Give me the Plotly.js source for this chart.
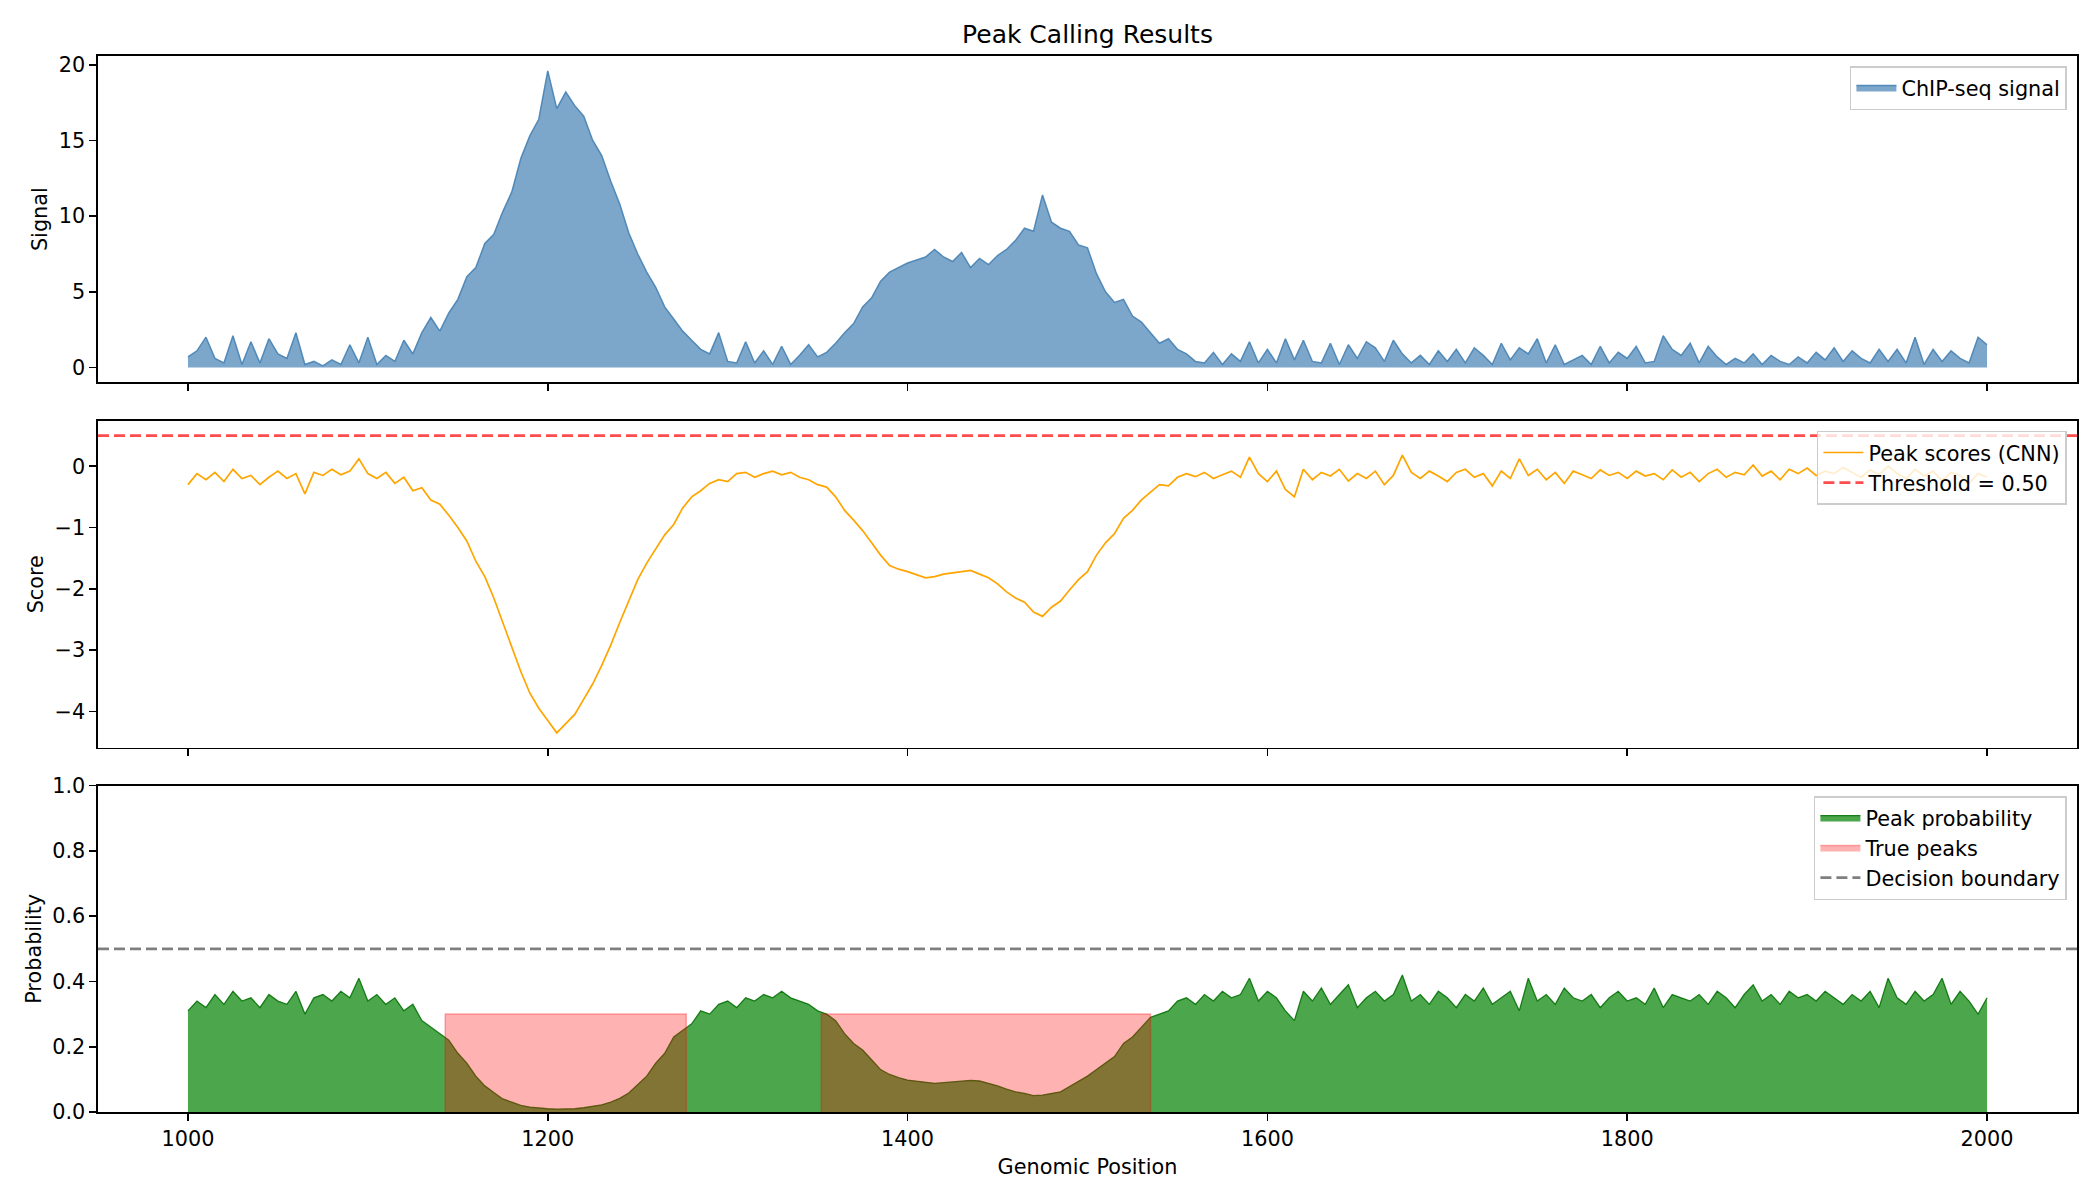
<!DOCTYPE html>
<html><head><meta charset="utf-8">
<script src="https://cdn.plot.ly/plotly-3.0.1.min.js"></script>
<style>html,body{margin:0;padding:0;background:#fff}#chart{width:2100px;height:1200px}</style>
</head><body><div id="chart"></div>
<script>
const posStart = 1000, posStep = 5;

const signal = [
  0.7, 1.1, 2.0, 0.6, 0.3, 2.1, 0.2, 1.7, 0.3, 1.9,
  0.9, 0.6, 2.3, 0.2, 0.4, 0.1, 0.5, 0.2, 1.5, 0.3,
  2.0, 0.2, 0.8, 0.4, 1.8, 0.9, 2.3, 3.3, 2.4, 3.6,
  4.5, 6.0, 6.6, 8.2, 8.8, 10.3, 11.6, 13.8, 15.3, 16.4,
  19.6, 17.1, 18.2, 17.3, 16.6, 15.0, 14.0, 12.3, 10.8, 8.9,
  7.5, 6.3, 5.3, 4.0, 3.2, 2.4, 1.8, 1.2, 0.9, 2.3,
  0.4, 0.3, 1.7, 0.3, 1.1, 0.2, 1.4, 0.2, 0.8, 1.5,
  0.7, 1.0, 1.6, 2.3, 2.9, 4.0, 4.6, 5.7, 6.3, 6.6,
  6.9, 7.1, 7.3, 7.8, 7.3, 7.0, 7.6, 6.6, 7.2, 6.8,
  7.4, 7.8, 8.4, 9.2, 9.0, 11.4, 9.6, 9.2, 9.0, 8.1,
  7.9, 6.2, 5.0, 4.3, 4.5, 3.4, 3.0, 2.3, 1.6, 1.9,
  1.2, 0.9, 0.4, 0.3, 1.0, 0.2, 0.9, 0.4, 1.7, 0.3,
  1.2, 0.3, 1.9, 0.5, 1.8, 0.4, 0.3, 1.6, 0.2, 1.5,
  0.6, 1.7, 1.3, 0.4, 1.8, 0.9, 0.3, 0.8, 0.2, 1.1,
  0.4, 1.2, 0.3, 1.3, 0.8, 0.2, 1.6, 0.5, 1.3, 0.9,
  1.9, 0.3, 1.5, 0.2, 0.5, 0.8, 0.2, 1.4, 0.3, 1.0,
  0.6, 1.4, 0.3, 0.4, 2.1, 1.2, 0.8, 1.6, 0.3, 1.4,
  0.7, 0.2, 0.6, 0.3, 0.9, 0.2, 0.8, 0.4, 0.2, 0.7,
  0.3, 1.0, 0.5, 1.3, 0.4, 1.1, 0.6, 0.3, 1.2, 0.4,
  1.2, 0.3, 2.0, 0.2, 1.2, 0.4, 1.1, 0.6, 0.3, 2.0,
  1.5
];

const score = [
  -0.30, -0.12, -0.22, -0.10, -0.25, -0.05, -0.20, -0.15, -0.30, -0.18,
  -0.08, -0.20, -0.12, -0.45, -0.10, -0.15, -0.05, -0.14, -0.08, 0.12,
  -0.12, -0.20, -0.10, -0.28, -0.18, -0.40, -0.35, -0.55, -0.62, -0.80,
  -1.00, -1.22, -1.55, -1.80, -2.15, -2.55, -2.95, -3.35, -3.70, -3.95,
  -4.15, -4.35, -4.20, -4.05, -3.80, -3.55, -3.25, -2.92, -2.55, -2.20,
  -1.85, -1.58, -1.35, -1.12, -0.95, -0.68, -0.50, -0.40, -0.28, -0.22,
  -0.25, -0.12, -0.10, -0.18, -0.12, -0.08, -0.14, -0.10, -0.18, -0.22,
  -0.30, -0.34, -0.50, -0.72, -0.88, -1.05, -1.25, -1.45, -1.62, -1.68,
  -1.72, -1.77, -1.82, -1.80, -1.76, -1.74, -1.72, -1.70, -1.76, -1.82,
  -1.92, -2.05, -2.15, -2.22, -2.38, -2.45, -2.30, -2.20, -2.02, -1.85,
  -1.72, -1.45, -1.25, -1.10, -0.85, -0.72, -0.55, -0.42, -0.30, -0.32,
  -0.18, -0.12, -0.17, -0.10, -0.20, -0.14, -0.08, -0.18, 0.15, -0.12,
  -0.25, -0.08, -0.38, -0.50, -0.05, -0.22, -0.10, -0.16, -0.05, -0.24,
  -0.12, -0.20, -0.08, -0.30, -0.15, 0.18, -0.10, -0.20, -0.08, -0.16,
  -0.25, -0.10, -0.05, -0.18, -0.12, -0.32, -0.08, -0.20, 0.12, -0.15,
  -0.05, -0.22, -0.10, -0.28, -0.08, -0.14, -0.20, -0.06, -0.15, -0.10,
  -0.20, -0.08, -0.16, -0.12, -0.22, -0.06, -0.18, -0.10, -0.25, -0.12,
  -0.05, -0.18, -0.10, -0.14, 0.02, -0.16, -0.08, -0.22, -0.05, -0.12,
  -0.03, -0.15, -0.08, -0.12, -0.02, -0.10, -0.18, -0.06, -0.14, 0.00,
  -0.12, -0.20, -0.05, -0.16, -0.08, -0.24, -0.10, -0.15, -0.28, -0.12,
  -0.18
];

const probability = [
  0.31, 0.34, 0.32, 0.36, 0.33, 0.37, 0.34, 0.35, 0.32, 0.36,
  0.34, 0.33, 0.37, 0.30, 0.35, 0.36, 0.34, 0.37, 0.35, 0.41,
  0.34, 0.36, 0.33, 0.35, 0.31, 0.33, 0.28, 0.26, 0.24, 0.22,
  0.18, 0.15, 0.11, 0.08, 0.06, 0.04, 0.03, 0.02, 0.015, 0.012,
  0.010, 0.009, 0.009, 0.010, 0.013, 0.017, 0.022, 0.030, 0.042, 0.058,
  0.085, 0.11, 0.15, 0.18, 0.23, 0.25, 0.27, 0.31, 0.30, 0.33,
  0.34, 0.32, 0.35, 0.34, 0.36, 0.35, 0.37, 0.35, 0.34, 0.33,
  0.31, 0.30, 0.28, 0.24, 0.21, 0.19, 0.16, 0.13, 0.115, 0.105,
  0.098, 0.095, 0.090, 0.088, 0.090, 0.093, 0.096, 0.097, 0.095, 0.088,
  0.080, 0.070, 0.062, 0.057, 0.050, 0.052, 0.056, 0.062, 0.078, 0.095,
  0.11, 0.13, 0.15, 0.17, 0.21, 0.23, 0.26, 0.29, 0.30, 0.31,
  0.34, 0.35, 0.33, 0.36, 0.34, 0.37, 0.35, 0.36, 0.41, 0.34,
  0.37, 0.35, 0.31, 0.28, 0.37, 0.34, 0.38, 0.33, 0.36, 0.39,
  0.32, 0.35, 0.37, 0.34, 0.36, 0.42, 0.34, 0.36, 0.33, 0.37,
  0.35, 0.32, 0.36, 0.34, 0.38, 0.33, 0.35, 0.37, 0.31, 0.41,
  0.34, 0.36, 0.33, 0.38, 0.35, 0.34, 0.36, 0.32, 0.35, 0.37,
  0.34, 0.35, 0.33, 0.38, 0.32, 0.36, 0.35, 0.34, 0.36, 0.33,
  0.37, 0.35, 0.32, 0.36, 0.39, 0.34, 0.36, 0.33, 0.37, 0.35,
  0.36, 0.34, 0.37, 0.35, 0.33, 0.36, 0.34, 0.37, 0.32, 0.41,
  0.35, 0.33, 0.37, 0.34, 0.36, 0.41, 0.33, 0.37, 0.34, 0.30,
  0.35
];

const truePeaks = [[1143, 1277], [1352, 1535]];   // start, end of annotated peaks
const truePeakLevel = 0.3;
const threshold = 0.5;
const decisionBoundary = 0.5;

const xTicks = [1000, 1200, 1400, 1600, 1800, 2000];
const signalTicks = [0, 5, 10, 15, 20];
const scoreTicks = [-4, -3, -2, -1, 0];
const probTicks = [0, 0.2, 0.4, 0.6, 0.8, 1.0];

// ---- build ----
const positions = signal.map((_, i) => posStart + i * posStep);
const FONT = 'DejaVu Sans, Verdana, sans-serif';
const FS = 20.8;

const xMin = Math.min(...positions), xMax = Math.max(...positions);
const xPad = (xMax - xMin) * 0.05;
const xRange = [xMin - xPad, xMax + xPad];

function padded(lo, hi) { const s = hi - lo; return [lo - 0.05 * s, hi + 0.05 * s]; }
const sigRange = padded(Math.min(0, ...signal), Math.max(...signal));
const scoreRange = padded(Math.min(...score), Math.max(threshold, ...score));

const dash = '11px,5px';
const traces = [
  { x: positions, y: signal, xaxis: 'x', yaxis: 'y', type: 'scatter', mode: 'lines',
    fill: 'tozeroy', fillcolor: 'rgba(70,130,180,0.7)',
    line: { color: 'rgba(70,130,180,0.9)', width: 1.5 },
    name: 'ChIP-seq signal', legend: 'legend' },
  { x: positions, y: score, xaxis: 'x2', yaxis: 'y2', type: 'scatter', mode: 'lines',
    line: { color: 'orange', width: 1.7 },
    name: 'Peak scores (CNN)', legend: 'legend2' },
  { x: xRange, y: [threshold, threshold], xaxis: 'x2', yaxis: 'y2', type: 'scatter', mode: 'lines',
    line: { color: 'rgba(255,0,0,0.7)', width: 2.8, dash: dash },
    name: 'Threshold = ' + threshold.toFixed(2), legend: 'legend2' },
  { x: positions, y: probability, xaxis: 'x3', yaxis: 'y3', type: 'scatter', mode: 'lines',
    fill: 'tozeroy', fillcolor: 'rgba(0,128,0,0.7)',
    line: { color: 'rgba(0,110,0,0.85)', width: 1.3 },
    name: 'Peak probability', legend: 'legend3' }
];
truePeaks.forEach((p, k) => {
  traces.push({ x: [p[0], p[0], p[1], p[1]], y: [0, truePeakLevel, truePeakLevel, 0],
    xaxis: 'x3', yaxis: 'y3', type: 'scatter', mode: 'lines', fill: 'toself',
    fillcolor: 'rgba(255,0,0,0.3)', line: { color: 'rgba(255,0,0,0.3)', width: 1.5 },
    name: 'True peaks', legend: 'legend3', legendgroup: 'tp', showlegend: k === 0 });
});
traces.push({ x: xRange, y: [decisionBoundary, decisionBoundary], xaxis: 'x3', yaxis: 'y3',
  type: 'scatter', mode: 'lines', line: { color: 'rgba(0,0,0,0.5)', width: 2.8, dash: dash },
  name: 'Decision boundary', legend: 'legend3' });

const tickFont = { family: FONT, size: FS, color: 'black' };
const axBase = { showline: true, linecolor: 'black', linewidth: 1.6, mirror: true,
  ticks: 'outside', ticklen: 7, tickwidth: 1.6, tickcolor: 'black',
  showgrid: false, zeroline: false, tickfont: tickFont };

function xAxis(anchor, labels, title) {
  const a = Object.assign({}, axBase, { anchor: anchor, domain: [0, 1], range: xRange,
    tickmode: 'array', tickvals: xTicks, showticklabels: labels });
  if (title) a.title = { text: title, font: tickFont, standoff: 10 };
  return a;
}
function yAxis(anchor, domain, range, ticks, title, fmt) {
  return Object.assign({}, axBase, { anchor: anchor, domain: domain, range: range,
    tickmode: 'array', tickvals: ticks, tickformat: fmt || '',
    title: { text: title, font: tickFont, standoff: 5 } });
}
const legBase = { bgcolor: 'rgba(255,255,255,0.8)', bordercolor: '#cccccc', borderwidth: 1.5,
  font: { family: FONT, size: FS, color: 'black' }, xanchor: 'right', yanchor: 'top',
  itemwidth: 40, tracegroupgap: 0 };

const layout = {
  width: 2100, height: 1200,
  margin: { l: 98, r: 23, t: 56, b: 88 },
  paper_bgcolor: 'white', plot_bgcolor: 'white',
  font: { family: FONT, size: FS, color: 'black' },
  title: { text: 'Peak Calling Results', font: { family: FONT, size: 25, color: 'black' },
    x: 0.5, xref: 'paper', xanchor: 'center', y: 1 - 34 / 1200, yref: 'container', yanchor: 'middle' },
  xaxis: xAxis('y', false),
  xaxis2: xAxis('y2', false),
  xaxis3: xAxis('y3', true, 'Genomic Position'),
  yaxis: yAxis('x', [0.691, 1], sigRange, signalTicks, 'Signal'),
  yaxis2: yAxis('x2', [0.345, 0.6546], scoreRange, scoreTicks, 'Score'),
  yaxis3: yAxis('x3', [0, 0.309], [0, 1], probTicks, 'Probability', '.1f'),
  legend: Object.assign({}, legBase, { x: 0.9949, y: 0.9905 }),
  legend2: Object.assign({}, legBase, { x: 0.9949, y: 0.6449 }),
  legend3: Object.assign({}, legBase, { x: 0.9949, y: 0.2992 }),
  showlegend: true
};

Plotly.newPlot('chart', traces, layout, { displayModeBar: false, staticPlot: true });
</script>
</body></html>
